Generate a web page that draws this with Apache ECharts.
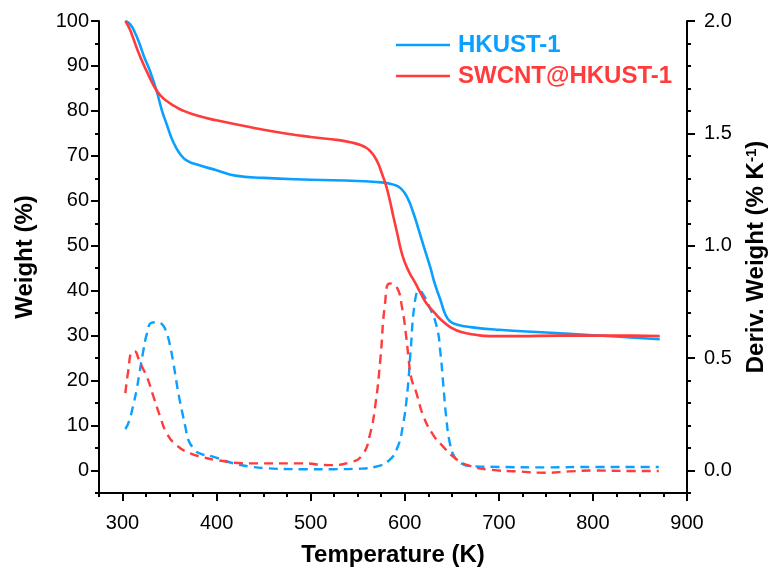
<!DOCTYPE html>
<html>
<head>
<meta charset="utf-8">
<script src="https://cdn.jsdelivr.net/npm/echarts@6/dist/echarts.min.js"></script>
<style>
html,body{margin:0;padding:0;background:#fff;}
#c{width:772px;height:573px;}
</style>
</head>
<body>
<div id="c"></div>
<script>
// ---- data ----
const hkTemp   = [303,308,313,318,323,329,336,342,347,352,357,362,368,380,400,420,450,500,550,575,588,596,603,609,615,621,627,632,638,643,648,655,670,700,750,800,840,871];
const hkWeight = [100,99.3,97.5,95,92,89,84.6,80,77,74,71.8,70.2,69,68,66.8,65.6,65.1,64.7,64.4,64.1,63.6,62.7,60.6,57.4,53.4,49.3,45.3,41.5,37.9,34.8,33.2,32.5,31.9,31.3,30.7,30.1,29.6,29.2];

const swTemp   = [303,307,311,316,322,328,334,340,347,355,364,380,400,435,470,500,530,545,553,559,564,568,572,576,580,584,588,593,596,599,602,606,611,617,623,632,641,650,660,675,690,720,765,800,840,871];
const swWeight = [100,98.5,96.4,93.5,90.5,87.8,85.3,83.5,82.2,81.1,80.1,78.9,77.9,76.4,75.1,74.2,73.5,72.9,72.4,71.8,70.9,69.8,68.2,65.9,63.5,60.2,56.4,51.8,49,46.9,45.3,43.6,41.8,39.4,37.2,35,33.1,31.7,30.8,30.2,29.9,29.9,30,30,30,29.9];

const hkDTemp  = [303,307,311,315,318,322,326,331,337,343,347,350,354,357,360,363,367,370,376,382,396,418,435,453,490,524,550,570,583,592,598,603,606,611,615.5,620,626,634,638,641,644,648,653,660,670,700,750,800,870];
const hkDeriv  = [0.184,0.22,0.284,0.36,0.434,0.53,0.61,0.658,0.66,0.646,0.61,0.566,0.48,0.402,0.33,0.268,0.19,0.136,0.096,0.076,0.062,0.032,0.018,0.01,0.006,0.006,0.008,0.018,0.044,0.1,0.2,0.36,0.52,0.758,0.802,0.78,0.73,0.64,0.52,0.38,0.24,0.12,0.06,0.032,0.02,0.016,0.014,0.016,0.016];

const swDTemp  = [303,306,310,313,317,321,326,333,340,347,357,372,385,400,435,490,520,542,555,563,569,574,579,584,591.5,597,602,604,607,612,620,630,640,655,670,690,720,750,775,800,840,870];
const swDeriv  = [0.344,0.44,0.528,0.53,0.498,0.46,0.416,0.328,0.24,0.166,0.114,0.076,0.06,0.046,0.032,0.032,0.024,0.036,0.07,0.16,0.3,0.492,0.742,0.832,0.816,0.728,0.58,0.5,0.41,0.35,0.24,0.16,0.11,0.05,0.02,0.004,-0.004,-0.01,-0.004,0,-0.002,-0.002];

const xMajor = [300,400,500,600,700,800,900];
const xMinor = [275,325,350,375,425,450,475,525,550,575,625,650,675,725,750,775,825,850,875];
const yMajor = [0,10,20,30,40,50,60,70,80,90,100];
const yMinor = [-5,5,15,25,35,45,55,65,75,85,95];
const dMajor = [0,0.5,1,1.5,2];
const dMinor = [-0.1,0.1,0.2,0.3,0.4,0.6,0.7,0.8,0.9,1.1,1.2,1.3,1.4,1.6,1.7,1.8,1.9];

const names = ['HKUST-1','SWCNT@HKUST-1'];
const BLUE = '#0AA0FF';
const RED  = '#FF3B3B';
const FONT = 'Liberation Sans, Arial, Helvetica, sans-serif';

function pairs(xs, ys){ return xs.map((x,i)=>[x, ys[i]]); }

const axisLineStyle = {show:true, onZero:false, lineStyle:{color:'#000', width:2}};
const labelStyle = {color:'#000', fontSize:20, fontFamily:FONT};
const nameStyle = {color:'#000', fontSize:24, fontWeight:'bold', fontFamily:FONT};

const chart = echarts.init(document.getElementById('c'), null, {renderer:'canvas'});
chart.setOption({
  animation:false,
  backgroundColor:'#fff',
  grid:{left:99, right:85, top:21, bottom:80, containLabel:false, outerBoundsMode:'none'},
  legend:{
    orient:'vertical', left:391, top:28, itemWidth:54, itemHeight:2.6, itemGap:7,
    icon:'rect',
    data:[{name:names[0], icon:'rect', textStyle:{color:BLUE}}, {name:names[1], icon:'rect', textStyle:{color:RED}}],
    textStyle:{fontSize:24, fontWeight:'bold', fontFamily:FONT, padding:[0,0,0,3]}
  },
  xAxis:[
    {type:'value', min:275, max:900, position:'bottom',
     axisLine:axisLineStyle,
     axisTick:{show:true, inside:false, length:8, lineStyle:{color:'#000', width:2}, customValues:xMajor},
     axisLabel:Object.assign({margin:20, customValues:xMajor}, labelStyle),
     splitLine:{show:false},
     name:'Temperature (K)', nameLocation:'middle', nameGap:50, nameTextStyle:nameStyle},
    {type:'value', min:275, max:900, position:'bottom',
     axisLine:{show:false, onZero:false},
     axisTick:{show:true, length:4, lineStyle:{color:'#000', width:2}, customValues:xMinor},
     axisLabel:{show:false}, splitLine:{show:false}}
  ],
  yAxis:[
    {type:'value', min:-5, max:100, position:'left',
     axisLine:axisLineStyle,
     axisTick:{show:true, length:8, lineStyle:{color:'#000', width:2}, customValues:yMajor},
     axisLabel:Object.assign({margin:10, customValues:yMajor}, labelStyle),
     splitLine:{show:false},
     name:'Weight (%)', nameLocation:'middle', nameGap:62, nameRotate:90, nameTextStyle:nameStyle},
    {type:'value', min:-0.1, max:2.0, position:'right',
     axisLine:axisLineStyle,
     axisTick:{show:true, length:8, lineStyle:{color:'#000', width:2}, customValues:dMajor},
     axisLabel:Object.assign({margin:17, customValues:dMajor, formatter:v=>v.toFixed(1)}, labelStyle),
     splitLine:{show:false},
     name:'{a|Deriv. Weight (% K}{s|-1}{a|)}', nameLocation:'middle', nameGap:57, nameRotate:90,
     nameTextStyle:Object.assign({rich:{
        a:{fontSize:24, fontWeight:'bold', fontFamily:FONT, color:'#000'},
        s:{fontSize:15, fontWeight:'bold', fontFamily:FONT, color:'#000', verticalAlign:'top', padding:[0,0,10,0]}
     }}, nameStyle)},
    {type:'value', min:-5, max:100, position:'left',
     axisLine:{show:false, onZero:false},
     axisTick:{show:true, length:4, lineStyle:{color:'#000', width:2}, customValues:yMinor},
     axisLabel:{show:false}, splitLine:{show:false}},
    {type:'value', min:-0.1, max:2.0, position:'right',
     axisLine:{show:false, onZero:false},
     axisTick:{show:true, length:4, lineStyle:{color:'#000', width:2}, customValues:dMinor},
     axisLabel:{show:false}, splitLine:{show:false}}
  ],
  series:[
    {name:names[0], type:'line', xAxisIndex:0, yAxisIndex:0, data:pairs(hkTemp,hkWeight),
     symbol:'none', smooth:0.5, lineStyle:{color:BLUE, width:2.6}, itemStyle:{color:BLUE}, z:3},
    {name:names[1], type:'line', xAxisIndex:0, yAxisIndex:0, data:pairs(swTemp,swWeight),
     symbol:'none', smooth:0.5, lineStyle:{color:RED, width:2.6}, itemStyle:{color:RED}, z:4},
    {name:'HKUST-1 DTG', type:'line', xAxisIndex:0, yAxisIndex:1, data:pairs(hkDTemp,hkDeriv),
     symbol:'none', smooth:0.5, lineStyle:{color:BLUE, width:2.4, type:[9,6]}, z:2},
    {name:'SWCNT@HKUST-1 DTG', type:'line', xAxisIndex:0, yAxisIndex:1, data:pairs(swDTemp,swDeriv),
     symbol:'none', smooth:0.5, lineStyle:{color:RED, width:2.4, type:[9,6]}, z:2}
  ]
});
</script>
</body>
</html>
